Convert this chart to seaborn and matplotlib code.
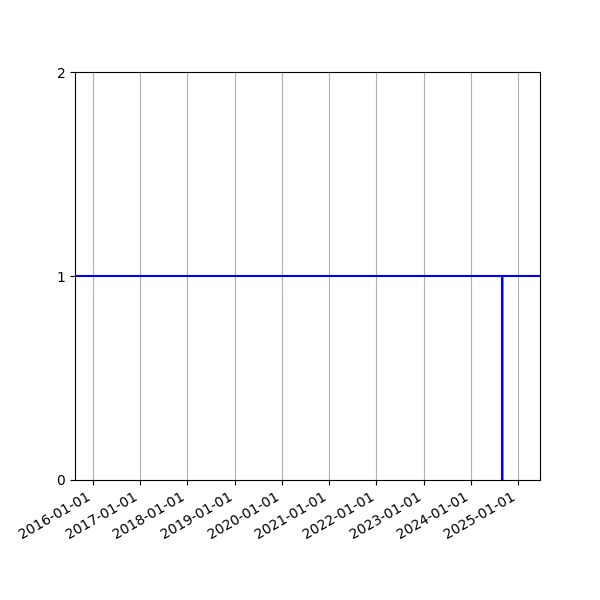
import pandas as pd
import seaborn as sns
import matplotlib
matplotlib.use('Agg')
import matplotlib.pyplot as plt
import matplotlib.dates as mdates

# Series: flat at 1, single drop to 0 in late summer 2024
dates = ['2015-08-17', '2024-08-30', '2024-08-31', '2024-09-01', '2025-06-19']
values = [1, 1, 0, 1, 1]
yticks = [0, 1, 2]

df = pd.DataFrame({'date': pd.to_datetime(dates), 'value': values})

fig, ax = plt.subplots(figsize=(6, 6), dpi=100)
sns.lineplot(data=df, x='date', y='value', color='blue', linewidth=1.5, ax=ax)

ax.set_xlim(df['date'].min(), df['date'].max())
ax.set_ylim(0, 2)
ax.set_yticks(yticks)
ax.xaxis.set_major_locator(mdates.YearLocator())
ax.xaxis.set_major_formatter(mdates.DateFormatter('%Y-%m-%d'))
ax.grid(axis='x', color='#b0b0b0')
ax.set_xlabel('')
ax.set_ylabel('')
fig.autofmt_xdate()

plt.savefig('out.png')
